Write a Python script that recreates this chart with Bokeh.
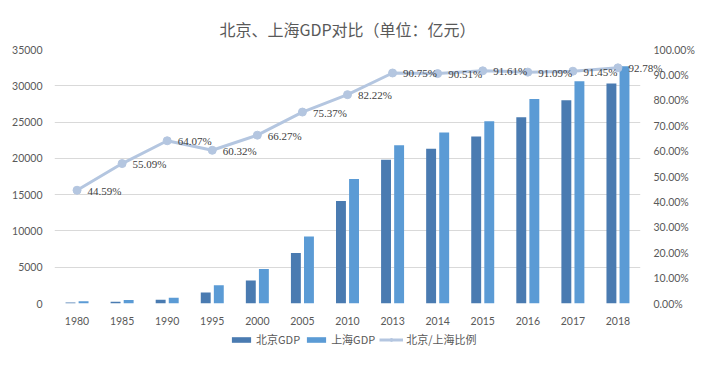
from bokeh.plotting import figure
from bokeh.layouts import column
from bokeh.models import (ColumnDataSource, FactorRange, Range1d, LinearAxis, FixedTicker,
                          NumeralTickFormatter, Legend, LegendItem, LabelSet)
from bokeh.transform import dodge
from bokeh.embed import file_html
from bokeh.resources import INLINE
try:
    from bokeh.models import HTMLLabelSet as LSet
except Exception:
    LSet = LabelSet

years = ["1980", "1985", "1990", "1995", "2000", "2005", "2010",
         "2013", "2014", "2015", "2016", "2017", "2018"]
beijing_gdp = [139, 257, 501, 1508, 3161, 6969, 14114, 19801, 21331, 23015, 25669, 28015, 30320]
shanghai_gdp = [312, 467, 782, 2499, 4771, 9247, 17166, 21818, 23568, 25123, 28179, 30633, 32680]
ratio_pct = [44.59, 55.09, 64.07, 60.32, 66.27, 75.37, 82.22, 90.75, 90.51, 91.61, 91.09, 91.45, 92.78]
left_ticks = [0, 5000, 10000, 15000, 20000, 25000, 30000, 35000]
right_ticks = [0.0, 0.1, 0.2, 0.3, 0.4, 0.5, 0.6, 0.7, 0.8, 0.9, 1.0]
title_text = "北京、上海GDP对比（单位：亿元）"
legend_labels = ["北京GDP", "上海GDP", "北京/上海比例"]

ratio = [r / 100.0 for r in ratio_pct]
src = ColumnDataSource(dict(year=years, bj=beijing_gdp, sh=shanghai_gdp, ratio=ratio,
                            lbl=["%.2f%%" % r for r in ratio_pct]))

CJK = "Noto Sans CJK SC"
NUM = "Lato"
GRAY = "#595959"
C_BJ = "#4A7BB1"
C_SH = "#5B9BD5"
C_LN = "#B4C6E0"

p = figure(width=698, height=330, x_range=FactorRange(*years), y_range=Range1d(0, 35000),
           output_backend="svg", toolbar_location=None,
           min_border_left=54, min_border_right=58, min_border_top=49, min_border_bottom=27)
p.extra_y_ranges = {"pct": Range1d(0, 1)}

p.title.text = title_text
p.title.align = "center"
p.title.offset = 10
p.title.text_font = CJK
p.title.text_font_size = "16px"
p.title.text_font_style = "normal"
p.title.text_color = GRAY
p.title.standoff = 18

p.outline_line_color = None
p.border_fill_color = "white"
p.xgrid.grid_line_color = None
p.ygrid.grid_line_color = "#D9D9D9"
p.ygrid.ticker = FixedTicker(ticks=left_ticks)

r_bj = p.vbar(x=dodge("year", -0.145, range=p.x_range), top="bj", width=0.22, source=src,
              color=C_BJ, line_color=None)
r_sh = p.vbar(x=dodge("year", 0.145, range=p.x_range), top="sh", width=0.22, source=src,
              color=C_SH, line_color=None)
r_line = p.line(x="year", y="ratio", source=src, y_range_name="pct", line_color=C_LN,
                line_width=3)
r_pts = p.scatter(x="year", y="ratio", source=src, y_range_name="pct", size=8,
                  fill_color=C_LN, line_color=C_LN)

labels = LSet(x="year", y="ratio", text="lbl", source=src, y_range_name="pct",
              x_offset=11, y_offset=-1, text_baseline="middle", text_align="left",
              text_font="Lato, sans-serif", text_font_size="11px", text_color="#404040")
p.add_layout(labels)

ax = p.yaxis[0]
ax.ticker = FixedTicker(ticks=left_ticks)
ax.axis_line_color = None
ax.major_tick_line_color = None
ax.minor_tick_line_color = None
ax.major_label_text_font = NUM
ax.major_label_text_font_size = "10.5px"
ax.major_label_text_color = GRAY
ax.major_label_standoff = 6

rax = LinearAxis(y_range_name="pct", ticker=FixedTicker(ticks=right_ticks),
                 formatter=NumeralTickFormatter(format="0.00%"))
rax.axis_line_color = None
rax.major_tick_line_color = None
rax.minor_tick_line_color = None
rax.major_label_text_font = NUM
rax.major_label_text_font_size = "10.5px"
rax.major_label_text_color = GRAY
rax.major_label_standoff = 7
p.add_layout(rax, "right")

xa = p.xaxis[0]
xa.axis_line_color = None
xa.major_tick_line_color = None
xa.minor_tick_line_color = None
xa.major_label_text_font = NUM
xa.major_label_text_font_size = "10.5px"
xa.major_label_text_color = GRAY
xa.major_label_standoff = 7

# legend strip below the chart (its glyphs sit outside the visible range)
lf = figure(width=698, height=30, x_range=Range1d(0, 1), y_range=Range1d(0, 1),
            x_axis_type=None, y_axis_type=None, output_backend="svg", toolbar_location=None,
            min_border=0)
lf.outline_line_color = None
lf.grid.visible = False
hidden = ColumnDataSource(dict(x=[-10], y=[-10], t=[-10]))
l_bj = lf.vbar(x="x", top="t", width=0.1, source=hidden, color=C_BJ, line_color=None)
l_sh = lf.vbar(x="x", top="t", width=0.1, source=hidden, color=C_SH, line_color=None)
l_ln = lf.line(x="x", y="y", source=hidden, line_color=C_LN, line_width=3)
l_pt = lf.scatter(x="x", y="y", source=hidden, size=7, fill_color=C_LN, line_color=C_LN)

legend = Legend(items=[LegendItem(label=legend_labels[0], renderers=[l_bj]),
                       LegendItem(label=legend_labels[1], renderers=[l_sh]),
                       LegendItem(label=legend_labels[2], renderers=[l_ln, l_pt])],
                orientation="horizontal", location=(175, 13))
legend.label_text_font = CJK
legend.label_text_font_size = "11px"
legend.label_text_color = GRAY
legend.glyph_width = 24
legend.glyph_height = 7
legend.spacing = 4
legend.label_standoff = 3
legend.border_line_color = None
legend.background_fill_alpha = 0
legend.padding = 2
legend.margin = 0
lf.add_layout(legend)

layout = column(p, lf, spacing=0)
open("out.html", "w").write(file_html(layout, INLINE))
